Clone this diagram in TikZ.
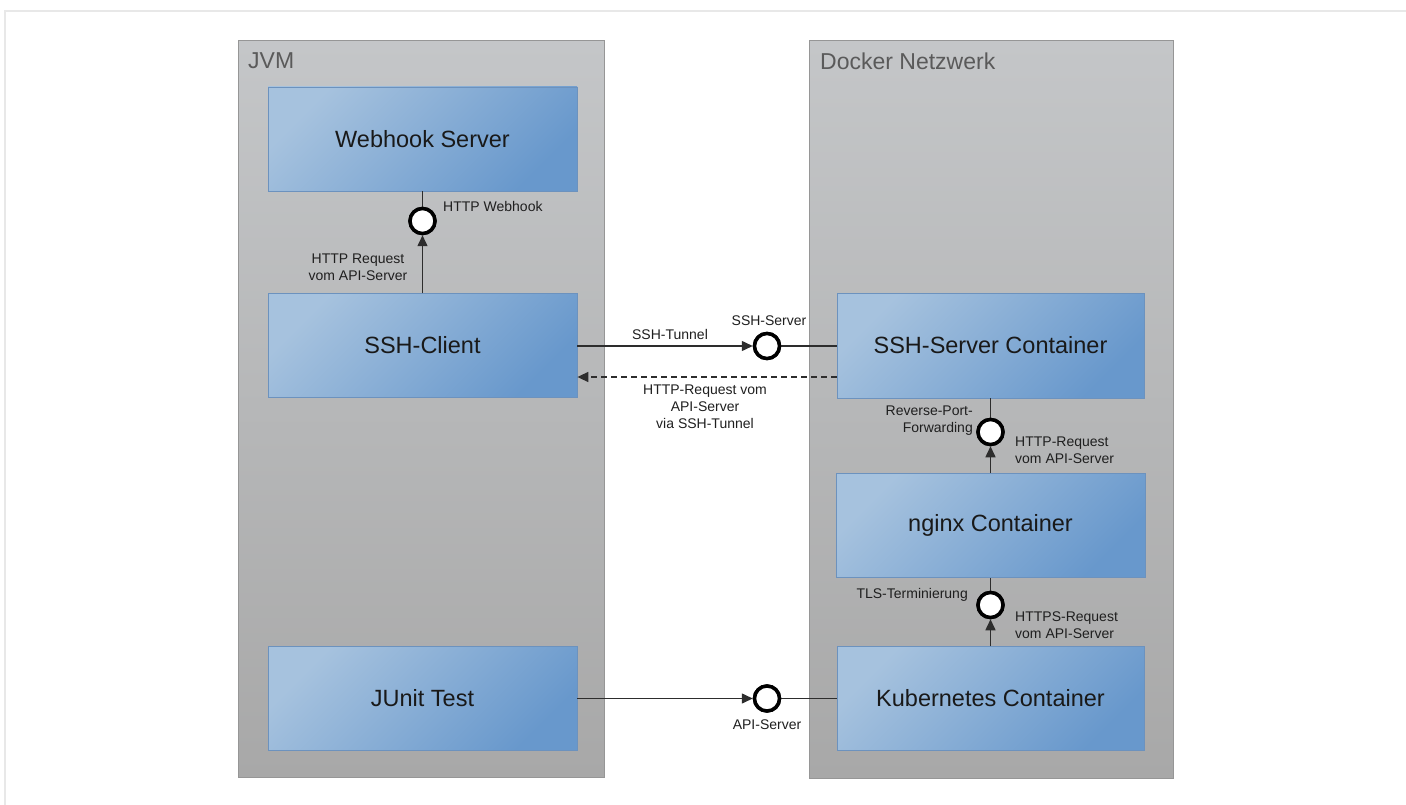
\documentclass[tikz,border=0pt]{standalone}
\usepackage{fontspec}
\setmainfont{Liberation Sans}
\usetikzlibrary{arrows.meta}
\definecolor{frameline}{RGB}{232,232,232}
\definecolor{contTop}{RGB}{196,198,200}
\definecolor{contBot}{RGB}{168,168,168}
\definecolor{contBorder}{RGB}{150,150,150}
\definecolor{boxA}{RGB}{166,194,222}
\definecolor{boxB}{RGB}{104,152,204}
\definecolor{boxBorder}{RGB}{108,146,190}
\definecolor{labelgray}{RGB}{90,90,90}
\definecolor{linecol}{RGB}{45,45,45}
\tikzset{
  container/.style={draw=contBorder, line width=1pt, top color=contTop, bottom color=contBot},
  compbox/.style={draw=boxBorder, line width=0.8pt, top color=boxA, bottom color=boxB, shading angle=45,
    minimum width=309pt, minimum height=104pt, inner sep=0pt,
    font=\fontsize{23.5}{28}\selectfont, text=black!90},
  iface/.style={circle, draw=black, line width=3.5pt, fill=white, minimum size=25pt, inner sep=0pt},
  conn/.style={draw=linecol, line width=1.5pt},
  arr/.style={conn, -{Triangle[length=11pt, width=10pt]}},
  lbl/.style={font=\fontsize{14}{17}\selectfont, text=black!88, inner sep=0pt},
  contlabel/.style={font=\fontsize{23}{28}\selectfont, text=labelgray, anchor=west, inner sep=0pt}
}
\begin{document}
\begin{tikzpicture}[x=1pt, y=-1pt]
\useasboundingbox (0,0) rectangle (1406,805);
% faint outer frame
\draw[frameline, line width=1.5pt] (1406,11) -- (5,11) -- (5,805);
% containers
\path[container] (238,41) rectangle (604,777);
\path[container] (809,41) rectangle (1173,778);
\node[contlabel] (jvmlbl) at (248,61) {JVM};
\node[contlabel] (dockerlbl) at (820,61) {Docker Netzwerk};
% component boxes
\node[compbox] (webhook) at (422.5,139) {Webhook Server};
\node[compbox] (sshc) at (422.5,345.5) {SSH-Client};
\node[compbox] (junit) at (422.5,698.5) {JUnit Test};
\node[compbox, minimum width=307pt, minimum height=105pt] (sshs) at (990.5,345.5) {SSH-Server Container};
\node[compbox] (nginx) at (990.5,525.5) {nginx Container};
\node[compbox, minimum width=307pt] (kube) at (990.5,698.5) {Kubernetes Container};
% interfaces
\node[iface] (c1) at (422.5,221) {};
\node[iface] (c2) at (767,346) {};
\node[iface] (c3) at (990.5,432) {};
\node[iface] (c4) at (990.5,605) {};
\node[iface] (c5) at (767,698.5) {};
% connectors
\draw[conn] (webhook.south) -- (c1.north);
\draw[arr] (sshc.north) -- (c1.south);
\draw[arr] (sshc.east |- c2) -- (c2.west);
\draw[conn] (c2.east) -- (sshs.west |- c2);
\draw[arr, dashed, dash pattern=on 6pt off 4pt] ([yshift=-31.5pt]sshs.west) -- ([yshift=-31.5pt]sshc.east);
\draw[conn] (sshs.south) -- (c3.north);
\draw[arr] (nginx.north) -- (c3.south);
\draw[conn] (nginx.south) -- (c4.north);
\draw[arr] (kube.north) -- (c4.south);
\draw[arr] (junit.east) -- (c5.west);
\draw[conn] (c5.east) -- (kube.west);
% redraw interfaces on top
\node[iface] at (c1) {};
\node[iface] at (c2) {};
\node[iface] at (c3) {};
\node[iface] at (c4) {};
\node[iface] at (c5) {};
% labels
\node[lbl, anchor=west] (l1) at (443,206) {HTTP Webhook};
\node[lbl, align=center] (l2) at (358,267.5) {HTTP Request\\vom API-Server};
\node[lbl] (l3) at (670,334) {SSH-Tunnel};
\node[lbl] (l4) at (769,321) {SSH-Server};
\node[lbl, align=center] (l5) at (705,406.5) {HTTP-Request vom\\API-Server\\via SSH-Tunnel};
\node[lbl, align=right, anchor=east] (l6) at (973,421) {Reverse-Port-\\Forwarding};
\node[lbl, align=left, anchor=west] (l7) at (1015,450) {HTTP-Request\\vom API-Server};
\node[lbl, anchor=east] (l8) at (968,595) {TLS-Terminierung};
\node[lbl, align=left, anchor=west] (l9) at (1015,625) {HTTPS-Request\\vom API-Server};
\node[lbl] (l10) at (767,725) {API-Server};
\end{tikzpicture}
\end{document}
